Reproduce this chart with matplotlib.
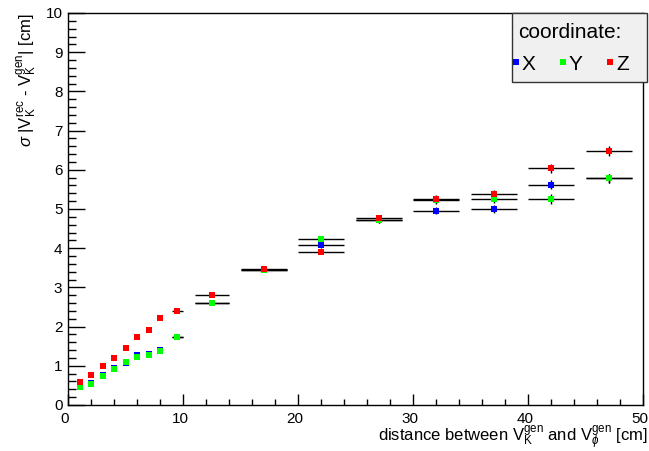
import matplotlib
matplotlib.use("Agg")
import matplotlib.pyplot as plt
from matplotlib.lines import Line2D
from matplotlib.patches import Rectangle
from matplotlib.ticker import MultipleLocator
from matplotlib.transforms import ScaledTranslation

plt.rcParams['font.family'] = ['Liberation Sans', 'DejaVu Sans']
plt.rcParams['mathtext.fontset'] = 'custom'
plt.rcParams['mathtext.rm'] = 'Liberation Sans'
plt.rcParams['mathtext.it'] = 'Liberation Sans:italic'
plt.rcParams['mathtext.bf'] = 'Liberation Sans:bold'

# distance bins (centre, half width)
dist = [1, 2, 3, 4, 5, 6, 7, 8, 9.5, 12.5, 17, 22, 27, 32, 37, 42, 47]
dist_err = [0, 0, 0, 0, 0, 0, 0, 0, 0.5, 1.5, 2, 2, 2, 2, 2, 2, 2]

sigma_x = [0.46, 0.55, 0.77, 0.94, 1.08, 1.28, 1.29, 1.40, 1.74, 2.59, 3.45, 4.08, 4.72, 4.96, 5.01, 5.62, 5.78]
sigma_y = [0.45, 0.54, 0.74, 0.93, 1.10, 1.22, 1.28, 1.39, 1.73, 2.61, 3.45, 4.24, 4.72, 5.22, 5.26, 5.26, 5.78]
sigma_z = [0.59, 0.76, 1.00, 1.20, 1.45, 1.73, 1.91, 2.23, 2.39, 2.80, 3.46, 3.91, 4.76, 5.26, 5.38, 6.04, 6.48]

err_x = [0.02, 0.02, 0.03, 0.03, 0.03, 0.03, 0.03, 0.04, 0.04, 0.05, 0.05, 0.07, 0.08, 0.10, 0.10, 0.12, 0.12]
err_y = [0.02, 0.02, 0.03, 0.03, 0.03, 0.03, 0.03, 0.04, 0.04, 0.05, 0.05, 0.07, 0.08, 0.10, 0.10, 0.12, 0.12]
err_z = [0.02, 0.02, 0.03, 0.03, 0.03, 0.03, 0.03, 0.04, 0.04, 0.05, 0.05, 0.07, 0.08, 0.10, 0.10, 0.12, 0.12]

series = [("X", sigma_x, err_x, "#0000ff"),
          ("Y", sigma_y, err_y, "#00ff00"),
          ("Z", sigma_z, err_z, "#ff0000")]

W, H = 649, 451
fig = plt.figure(figsize=(W / 100, H / 100), dpi=100)
ax = fig.add_axes([68 / W, 1 - 405 / H, 575 / W, 392 / H])

for name, vals, errs, col in series:
    ax.errorbar(dist, vals, xerr=dist_err, yerr=errs, fmt='s', color=col,
                ms=5, mew=0, ecolor='black', elinewidth=1, capsize=1.3, capthick=1)

ax.set_xlim(0, 50)
ax.set_ylim(0, 10)
ax.xaxis.set_major_locator(MultipleLocator(10))
ax.xaxis.set_minor_locator(MultipleLocator(2))
ax.yaxis.set_major_locator(MultipleLocator(1))
ax.yaxis.set_minor_locator(MultipleLocator(0.2))
ax.tick_params(axis='both', which='both', direction='in', labelsize=11, width=1)
ax.tick_params(axis='x', which='major', length=8, pad=5)
ax.tick_params(axis='x', which='minor', length=4)
ax.tick_params(axis='y', which='major', length=12, pad=4)
ax.tick_params(axis='y', which='minor', length=5.5)
for s in ax.spines.values():
    s.set_linewidth(1)

# ROOT puts the x labels a touch left of the ticks
shift = ScaledTranslation(-3 / 100, 0, fig.dpi_scale_trans)
for lbl in ax.get_xticklabels():
    lbl.set_transform(lbl.get_transform() + shift)

ax.set_xlabel(r'distance between V$_{\mathrm{K}}^{\mathrm{gen}}$ and V$_{\phi}^{\mathrm{gen}}$ [cm]',
              fontsize=12, ha='right', va='baseline')
ax.xaxis.set_label_coords(1.0087, -0.0945)
ax.set_ylabel(r'$\sigma$ |V$_{\mathrm{K}}^{\mathrm{rec}}$ - V$_{\mathrm{K}}^{\mathrm{gen}}$| [cm]',
              fontsize=12, ha='right', va='center')
ax.yaxis.set_label_coords(-0.071, 1.0)

# legend box, ROOT style
fig.add_artist(Rectangle((511.7 / W, 1 - 81.7 / H), 135 / W, 68.7 / H, transform=fig.transFigure,
                         fc='#f0f0f0', ec='#333333', lw=1, zorder=4))
fig.text(518 / W, 1 - 33 / H, 'coordinate:', fontsize=15, va='center', zorder=5)
handles = [Line2D([], [], ls='none', marker='s', ms=5, mew=0, color=c) for _, _, _, c in series]
fig.legend(handles, [n for n, _, _, _ in series], loc='center left',
           bbox_to_anchor=(512.1 / W, 1 - 64 / H), ncol=3, frameon=False,
           borderpad=0, borderaxespad=0, fontsize=15,
           handlelength=0.35, handletextpad=0.1, columnspacing=1.15)

fig.savefig("out.png", dpi=100)
